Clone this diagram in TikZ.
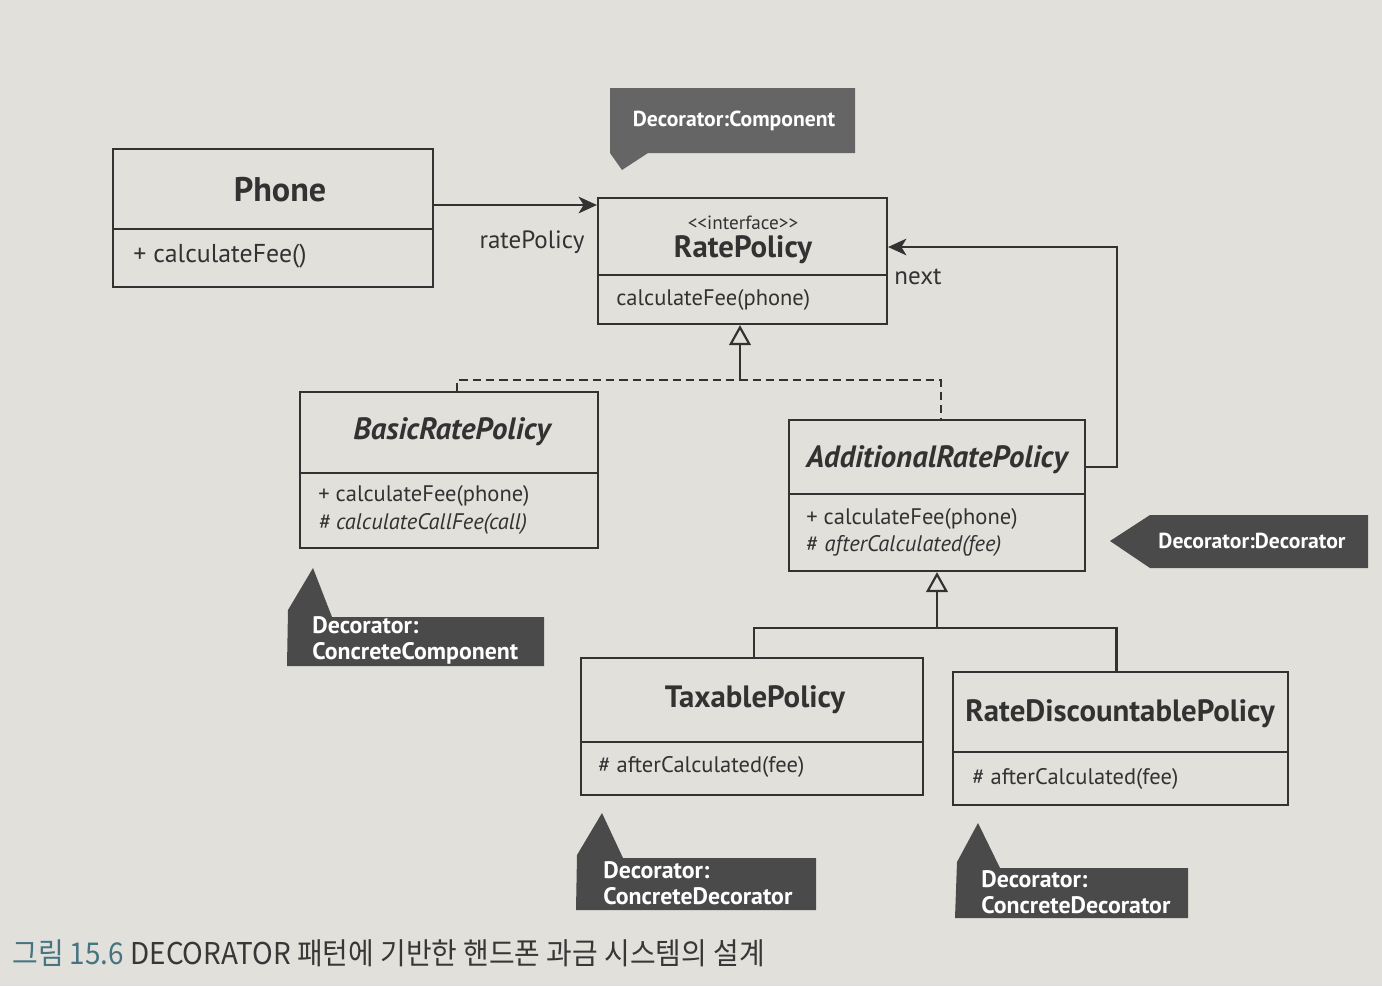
\documentclass[tikz,border=0pt]{standalone}
\usepackage{fontspec}
\usepackage{graphicx}
\setmainfont{PT Sans}
\newfontfamily\krfont{Noto Sans CJK KR}
\usetikzlibrary{arrows.meta,calc}
\definecolor{pagebg}{RGB}{226,224,219}
\definecolor{ink}{RGB}{50,50,50}
\definecolor{tagfill}{RGB}{74,74,74}
\definecolor{capblue}{RGB}{70,116,130}
\definecolor{capgray}{RGB}{55,55,55}
\tikzset{
  clsbox/.style={draw=ink, line width=1.3pt, rectangle, inner sep=0pt},
  divider/.style={draw=ink, line width=1.1pt},
  cname/.style={text=ink, font=\fontsize{18.5}{21}\selectfont\bfseries, inner sep=0pt},
  cnameit/.style={text=ink, font=\fontsize{18.5}{21}\selectfont\bfseries\itshape, inner sep=0pt},
  stereo/.style={text=ink, font=\fontsize{11.5}{13}\selectfont, inner sep=0pt},
  meth/.style={text=ink, font=\fontsize{13.5}{16}\selectfont, anchor=west, inner sep=0pt},
  methit/.style={meth, font=\fontsize{13.5}{16}\selectfont\itshape},
  lbl/.style={text=ink, font=\fontsize{15}{17}\selectfont, inner sep=0pt},
  conn/.style={draw=ink, line width=1.3pt},
  assoc/.style={conn, -{Stealth[length=11pt,width=10pt,inset=3pt]}},
  realize/.style={conn, dash pattern=on 5pt off 3pt},
  gentip/.style={conn, -{Triangle[open,length=12pt,width=13pt,line width=1.3pt]}},
  tag/.style={fill=tagfill, draw=none},
  tagtext/.style={text=white, font=\fontsize{13}{15}\selectfont\bfseries, inner sep=0pt, align=left},
  tagtext2/.style={text=white, font=\fontsize{14.3}{15.5}\selectfont\bfseries, inner sep=0pt, align=left, anchor=west},
}
\begin{document}
\begin{tikzpicture}[x=0.6pt,y=-0.6pt]
\fill[pagebg] (0,0) rectangle (1382,986);
\useasboundingbox (0,0) rectangle (1382,986);

% ---------- Phone ----------
\node[clsbox, minimum width=192pt, minimum height=82.8pt] (phone) at (273,218) {};
\draw[divider] (phone.west |- 0,229) -- (phone.east |- 0,229);
\node[cname, font=\fontsize{20.5}{23}\selectfont\bfseries] (phoneT) at (280,190) {Phone};
\node[meth, font=\fontsize{15.5}{18}\selectfont] (phoneM) at (133,256) {+ calculateFee()};

% ---------- RatePolicy ----------
\node[clsbox, minimum width=173.4pt, minimum height=75.6pt] (rp) at (742.5,261) {};
\draw[divider] (rp.west |- 0,275) -- (rp.east |- 0,275);
\node[stereo] (rpS) at (743,223) {\mbox{<}\mbox{<}interface\mbox{>}\mbox{>}};
\node[cname] (rpT) at (743,250) {RatePolicy};
\node[meth] (rpM) at (616,300) {calculateFee(phone)};

% ---------- BasicRatePolicy ----------
\node[clsbox, minimum width=178.8pt, minimum height=93.6pt] (basic) at (449,470) {};
\draw[divider] (basic.west |- 0,473) -- (basic.east |- 0,473);
\node[cnameit] (basicT) at (452,432) {BasicRatePolicy};
\node[meth] (basicM1) at (318,496) {+ calculateFee(phone)};
\node[methit] (basicM2) at (318,524) {\# calculateCallFee(call)};

% ---------- AdditionalRatePolicy ----------
\node[clsbox, minimum width=177.6pt, minimum height=90.6pt] (add) at (937,495.5) {};
\draw[divider] (add.west |- 0,494) -- (add.east |- 0,494);
\node[cnameit] (addT) at (937,460) {AdditionalRatePolicy};
\node[meth] (addM1) at (806,519) {+ calculateFee(phone)};
\node[meth] (addM2) at (806,546) {\# \textit{afterCalculated(fee)}};

% ---------- TaxablePolicy ----------
\node[clsbox, minimum width=205.2pt, minimum height=82.2pt] (tax) at (752,726.5) {};
\draw[divider] (tax.west |- 0,742) -- (tax.east |- 0,742);
\node[cname] (taxT) at (755,700) {TaxablePolicy};
\node[meth] (taxM) at (598,767) {\# afterCalculated(fee)};

% ---------- RateDiscountablePolicy ----------
\node[clsbox, minimum width=201pt, minimum height=79.8pt] (disc) at (1120.5,738.5) {};
\draw[divider] (disc.west |- 0,752) -- (disc.east |- 0,752);
\node[cname] (discT) at (1120,714) {RateDiscountablePolicy};
\node[meth] (discM) at (972,779) {\# afterCalculated(fee)};

% ---------- connectors ----------
\draw[assoc] ([yshift=7.8pt]phone.east) -- ([yshift=7.8pt]phone.east -| rp.west);
\node[lbl] (rpl) at (532,242) {ratePolicy};

\coordinate (addN) at ([yshift=17.1pt]add.east);
\coordinate (rpN) at ([yshift=8.4pt]rp.east);
\coordinate (nextx) at (1117,0);
\draw[assoc] (addN) -| (nextx |- rpN) -- (rpN);
\node[lbl] (nextl) at (918,277) {next};

\coordinate (j1) at (740,380);
\draw[realize] ([xshift=4.8pt]basic.north) |- (j1) -| ([xshift=2.4pt]add.north);
\draw[gentip] (j1) -- (j1 |- rp.south);

\coordinate (j2) at (937,628);
\draw[conn] ([xshift=1.2pt]tax.north) |- (j2) -| ([xshift=-2.4pt]disc.north);
\draw[gentip] (j2) -- (add.south);

% ---------- stereotype tags ----------
\fill[tag, fill=tagfill!85!white] (610,88) -- (855,88) -- (855,153) -- (648,153) -- (622,170) -- (610,153) -- cycle;
\node[tagtext] (tagComp) at (734,121) {Decorator:Component};

\fill[tag] (1110,541) -- (1150,515) -- (1368,515) -- (1368,568) -- (1150,568) -- cycle;
\node[tagtext] (tagDec) at (1252,541) {Decorator:Decorator};

\fill[tag] (287,666) -- (288,610) -- (313,568) -- (332,617) -- (544,617) -- (544,666) -- cycle;
\node[tagtext2] (tagCC) at (312,640) {Decorator:\\ConcreteComponent};

\fill[tag] (576,910) -- (577,855) -- (602,813) -- (623,858) -- (816,858) -- (816,910) -- cycle;
\node[tagtext2] (tagCD1) at (603,883) {Decorator:\\ConcreteDecorator};

\fill[tag] (955,918) -- (957,862) -- (978,823) -- (1000,868) -- (1188,868) -- (1188,918) -- cycle;
\node[tagtext2] (tagCD2) at (981,892) {Decorator:\\ConcreteDecorator};

% ---------- caption ----------
\node[anchor=west, inner sep=0pt] (cap) at (12,953) {\scalebox{0.93}[1]{\krfont\fontsize{18}{20}\selectfont\color{capblue}그림 15.6 \color{capgray}DECORATOR 패턴에 기반한 핸드폰 과금 시스템의 설계}};
\end{tikzpicture}
\end{document}
